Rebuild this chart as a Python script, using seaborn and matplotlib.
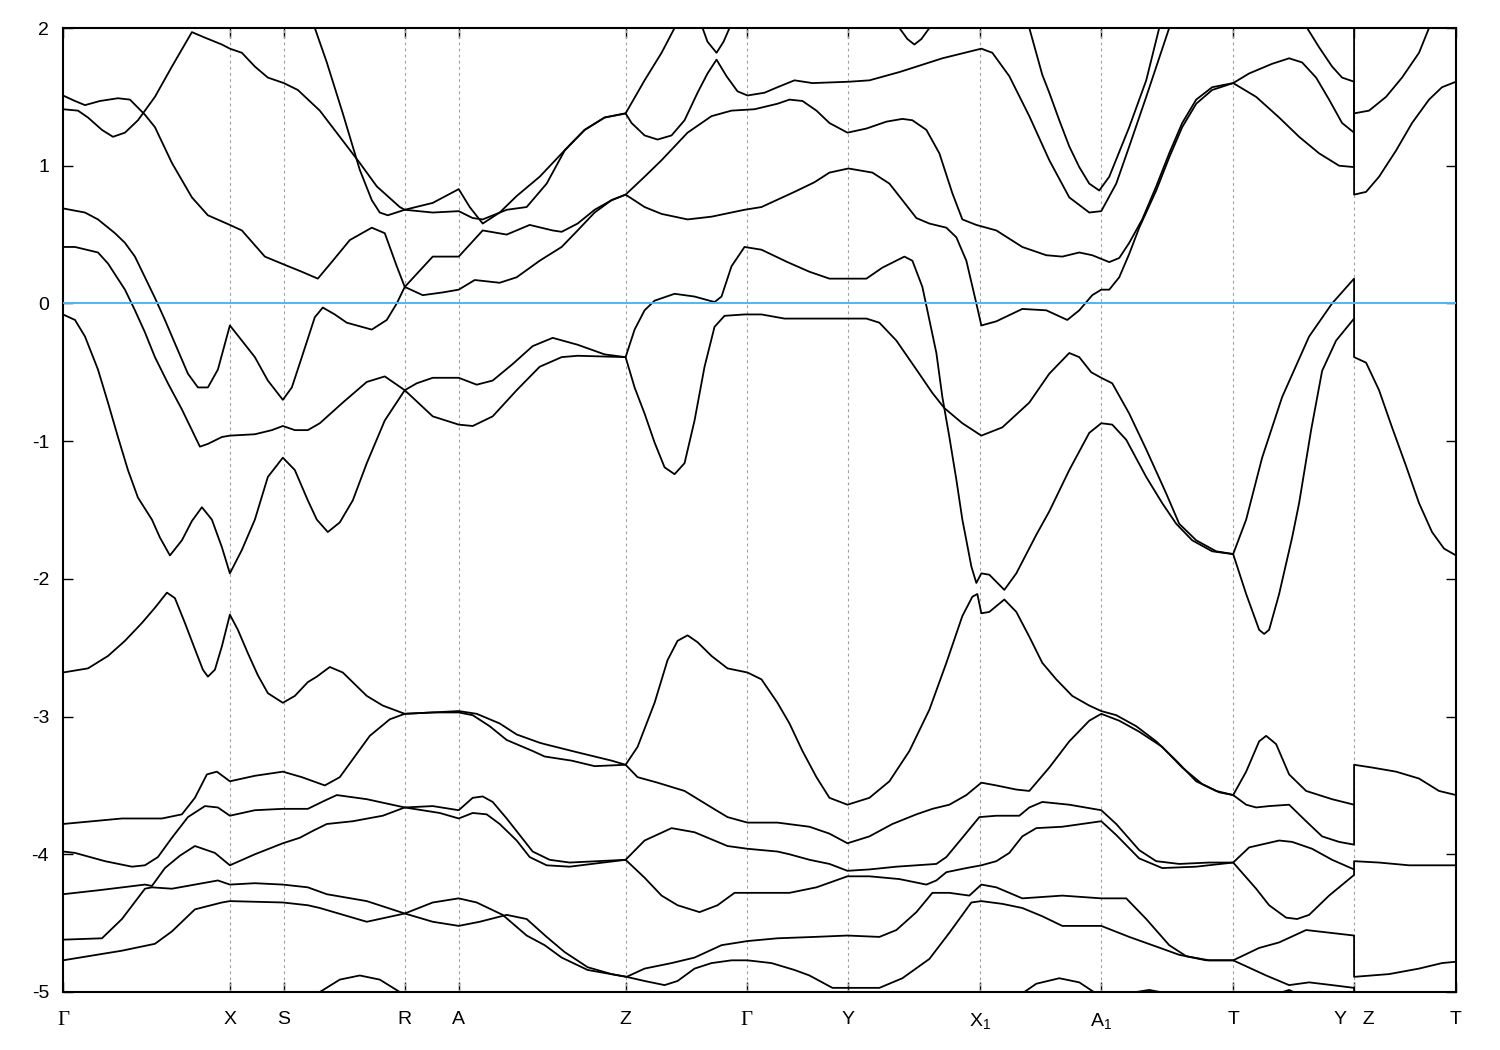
import pandas as pd
import matplotlib
matplotlib.use("Agg")
import matplotlib.pyplot as plt
import seaborn as sns

# Caminho de alta simetria (distância ao longo do caminho k, unidades arbitrárias)
TICK_POS = [0, 167, 221, 342, 396, 563, 684, 786, 918, 1039, 1171, 1292, 1394]
TICK_LABELS = ["Γ", "X", "S", "R", "A", "Z", "Γ", "Y", r"X$_{\rm 1}$", r"A$_{\rm 1}$", "T", "Y   Z", "T"]
E_MIN, E_MAX = -5, 2

# Bandas (k, E em eV)
b01_k = [0, 12, 22, 37, 55, 67, 82, 92, 109, 129, 145, 167, 179, 202, 222, 239, 255, 270, 287, 309, 322, 334, 342, 360, 380, 396, 412, 437, 454, 477, 499, 515, 532, 549, 563,
         582, 599, 625, 649, 682, 699, 732, 752, 767, 786, 810, 827, 840, 854, 867, 884, 894, 904, 914, 919,
         934, 960, 984, 1005, 1017, 1030, 1039, 1047, 1057, 1067, 1077, 1094, 1107, 1120, 1134, 1150, 1171,
         1194, 1217, 1237, 1257, 1277, 1292, 1292, 1307, 1324, 1340, 1357, 1367, 1375]
b01_e = [1.51, 1.47, 1.44, 1.47, 1.49, 1.48, 1.37, 1.28, 1.02, 0.77, 0.64, 0.57, 0.53, 0.34, 0.28, 0.23, 0.18, 0.31, 0.46, 0.55, 0.51, 0.27, 0.12, 0.06, 0.08, 0.10, 0.17, 0.15, 0.19, 0.31, 0.41, 0.53, 0.66, 0.75, 0.79,
         0.70, 0.65, 0.61, 0.63, 0.68, 0.70, 0.81, 0.88, 0.95, 0.98, 0.95, 0.87, 0.75, 0.62, 0.58, 0.55, 0.48, 0.31, 0.0, -0.16,
         -0.13, -0.04, -0.05, -0.12, -0.05, 0.06, 0.10, 0.10, 0.19, 0.36, 0.55, 0.82, 1.06, 1.28, 1.45, 1.55, 1.60,
         1.50, 1.35, 1.21, 1.09, 1.00, 0.99, 1.38, 1.40, 1.50, 1.64, 1.82, 2.0, 2.15]

b02_k = [0, 15, 25, 39, 50, 62, 75, 92, 109, 129, 142, 159, 167, 179, 192, 205, 221, 235, 257, 277, 297, 314, 337, 342, 370, 396, 407, 420, 437, 454, 477, 507, 522, 542, 563,
         569, 582, 595, 609, 622, 635, 645, 654, 664, 675, 685, 702, 715, 732, 750, 787, 807, 837, 880, 919, 930, 947, 967, 987, 1007, 1027, 1039, 1054, 1067, 1084, 1107, 1112]
b02_e = [1.41, 1.40, 1.35, 1.26, 1.21, 1.24, 1.33, 1.50, 1.72, 1.97, 1.93, 1.88, 1.85, 1.82, 1.72, 1.64, 1.60, 1.55, 1.40, 1.21, 1.02, 0.85, 0.70, 0.68, 0.73, 0.83, 0.70, 0.58, 0.66, 0.78, 0.92, 1.15, 1.26, 1.35, 1.38,
         1.31, 1.22, 1.19, 1.22, 1.33, 1.53, 1.67, 1.77, 1.65, 1.54, 1.51, 1.53, 1.57, 1.62, 1.60, 1.61, 1.62, 1.68, 1.78, 1.85, 1.82, 1.65, 1.36, 1.04, 0.77, 0.66, 0.67, 0.87, 1.14, 1.50, 2.0, 2.1]

b03_k = [249, 252, 264, 280, 297, 309, 317, 325, 342, 370, 396, 410, 420, 444, 464, 484, 502, 522, 542, 563, 582, 599, 612, 617]
b03_e = [2.1, 2.0, 1.75, 1.38, 0.97, 0.75, 0.66, 0.64, 0.68, 0.66, 0.67, 0.62, 0.61, 0.68, 0.70, 0.87, 1.11, 1.26, 1.35, 1.38, 1.62, 1.82, 2.0, 2.1]

b04_k = [0, 22, 35, 52, 62, 72, 82, 92, 102, 112, 125, 135, 145, 155, 167, 179, 192, 205, 220, 229, 239, 252, 260, 272, 284, 309, 324, 334, 342, 370, 396, 420, 444, 467, 490, 499, 515, 532, 549, 563,
         582, 599, 625, 649, 669, 692, 715, 727, 740, 754, 767, 785, 804, 824, 840, 850, 864, 877, 890, 900, 914, 934, 960, 984, 1000, 1017, 1030, 1047, 1057, 1067, 1080, 1094, 1107, 1120, 1134, 1150, 1171,
         1187, 1210, 1227, 1240, 1254, 1267, 1280, 1292, 1292]
b04_e = [0.69, 0.66, 0.61, 0.51, 0.44, 0.34, 0.19, 0.04, -0.12, -0.29, -0.51, -0.61, -0.61, -0.48, -0.16, -0.27, -0.39, -0.56, -0.70, -0.61, -0.39, -0.10, -0.03, -0.08, -0.14, -0.19, -0.12, 0.0, 0.12, 0.34, 0.34, 0.53, 0.50, 0.57, 0.53, 0.52, 0.58, 0.68, 0.75, 0.79,
         0.92, 1.04, 1.24, 1.36, 1.40, 1.41, 1.45, 1.48, 1.47, 1.40, 1.31, 1.24, 1.27, 1.32, 1.34, 1.33, 1.26, 1.09, 0.80, 0.61, 0.57, 0.53, 0.41, 0.35, 0.34, 0.37, 0.35, 0.30, 0.33, 0.44, 0.61, 0.85, 1.09, 1.31, 1.48, 1.57, 1.60,
         1.67, 1.74, 1.78, 1.75, 1.64, 1.48, 1.31, 1.24, 2.5]

b05_k = [1237, 1245, 1257, 1270, 1280, 1292, 1292, 1304, 1317, 1334, 1350, 1367, 1380, 1394]
b05_e = [2.1, 2.0, 1.86, 1.72, 1.64, 1.61, 0.79, 0.81, 0.92, 1.11, 1.31, 1.48, 1.57, 1.61]

b06_k = [0, 12, 35, 45, 62, 72, 82, 92, 105, 119, 129, 137, 145, 159, 167, 192, 209, 220, 232, 245, 257, 280, 304, 322, 342, 370, 396, 410, 430, 454, 477, 499, 515, 563,
         572, 582, 592, 612, 632, 652, 659, 669, 682, 699, 725, 747, 767, 804, 820, 842, 850, 860, 867, 874, 880, 887, 894, 900, 904, 909, 914, 919, 927, 942, 954, 974, 987, 1007, 1027, 1039, 1050, 1064, 1084, 1100, 1114, 1130, 1150, 1171,
         1184, 1200, 1220, 1247, 1270, 1292, 1292, 1304, 1317, 1330, 1344, 1357, 1370, 1382, 1394]
b06_e = [0.41, 0.41, 0.37, 0.29, 0.10, -0.05, -0.21, -0.39, -0.58, -0.77, -0.92, -1.04, -1.02, -0.97, -0.96, -0.95, -0.92, -0.89, -0.92, -0.92, -0.87, -0.72, -0.57, -0.53, -0.63, -0.82, -0.88, -0.89, -0.82, -0.63, -0.46, -0.39, -0.38, -0.39,
         -0.19, -0.05, 0.02, 0.07, 0.05, 0.01, 0.05, 0.27, 0.41, 0.39, 0.30, 0.23, 0.18, 0.18, 0.26, 0.34, 0.31, 0.12, -0.12, -0.36, -0.68, -0.97, -1.28, -1.57, -1.72, -1.91, -2.03, -1.96, -1.97, -2.08, -1.96, -1.68, -1.51, -1.21, -0.94, -0.87, -0.88, -0.99, -1.26, -1.45, -1.60, -1.72, -1.80, -1.82,
         -1.57, -1.12, -0.68, -0.24, 0.0, 0.18, -0.39, -0.43, -0.63, -0.90, -1.18, -1.45, -1.66, -1.78, -1.83]

b07_k = [0, 12, 22, 35, 45, 55, 65, 75, 89, 97, 107, 119, 129, 139, 149, 159, 167, 179, 192, 205, 220, 232, 245, 254, 265, 277, 290, 304, 322, 342, 354, 370, 396, 414, 430, 450, 470, 490, 515, 542, 563,
         572, 582, 592, 602, 612, 622, 632, 642, 652, 662, 682, 699, 722, 760, 804, 817, 834, 854, 870, 882, 900, 919, 940, 967, 987, 1007, 1017, 1029, 1039, 1050, 1067, 1084, 1104, 1117, 1134, 1154, 1171,
         1184, 1197, 1202, 1207, 1217, 1230, 1237, 1249, 1260, 1274, 1292]
b07_e = [-0.08, -0.12, -0.24, -0.48, -0.72, -0.97, -1.21, -1.41, -1.57, -1.70, -1.83, -1.72, -1.58, -1.48, -1.57, -1.77, -1.96, -1.79, -1.57, -1.26, -1.12, -1.21, -1.43, -1.57, -1.66, -1.59, -1.43, -1.16, -0.85, -0.63, -0.58, -0.54, -0.54, -0.59, -0.56, -0.44, -0.31, -0.25, -0.30, -0.37, -0.39,
         -0.61, -0.80, -1.01, -1.19, -1.24, -1.16, -0.85, -0.46, -0.17, -0.09, -0.08, -0.08, -0.11, -0.11, -0.11, -0.14, -0.27, -0.48, -0.65, -0.76, -0.87, -0.96, -0.90, -0.72, -0.51, -0.36, -0.39, -0.50, -0.54, -0.58, -0.80, -1.06, -1.38, -1.60, -1.72, -1.80, -1.82,
         -2.11, -2.37, -2.40, -2.37, -2.11, -1.70, -1.45, -0.92, -0.49, -0.27, -0.11]

b08_k = [0, 25, 45, 62, 79, 92, 104, 112, 122, 132, 140, 145, 152, 159, 167, 175, 185, 195, 205, 220, 232, 245, 254, 267, 280, 304, 320, 342, 370, 396, 414, 437, 454, 477, 482, 515, 549, 563,
         575, 592, 605, 615, 625, 635, 649, 665, 685, 699, 715, 727, 740, 754, 767, 785, 807, 827, 847, 867, 884, 900, 910, 915, 919, 927, 942, 954, 967, 980, 994, 1010, 1027, 1039, 1054, 1074, 1094, 1114, 1134, 1154, 1171,
         1184, 1197, 1204, 1214, 1227, 1244, 1270, 1292]
b08_e = [-2.68, -2.65, -2.56, -2.45, -2.32, -2.21, -2.10, -2.14, -2.32, -2.51, -2.66, -2.71, -2.66, -2.49, -2.26, -2.37, -2.54, -2.70, -2.83, -2.90, -2.85, -2.75, -2.71, -2.64, -2.68, -2.85, -2.92, -2.98, -2.97, -2.96, -2.98, -3.05, -3.13, -3.19, -3.20, -3.26, -3.32, -3.35,
         -3.22, -2.90, -2.59, -2.45, -2.41, -2.46, -2.56, -2.65, -2.68, -2.73, -2.90, -3.05, -3.25, -3.44, -3.59, -3.64, -3.59, -3.47, -3.25, -2.95, -2.61, -2.27, -2.13, -2.11, -2.25, -2.24, -2.15, -2.24, -2.42, -2.61, -2.73, -2.85, -2.92, -2.96, -2.99, -3.07, -3.18, -3.32, -3.47, -3.54, -3.57,
         -3.40, -3.18, -3.14, -3.20, -3.42, -3.54, -3.60, -3.64]

b09_k = [0, 59, 99, 119, 132, 144, 154, 167, 192, 220, 239, 262, 277, 294, 307, 327, 342, 370, 396, 410, 427, 444, 470, 482, 509, 532, 563,
         575, 595, 622, 649, 665, 685, 715, 747, 767, 785, 807, 830, 854, 870, 887, 904, 919, 934, 954, 967, 987, 1007, 1027, 1039, 1057, 1077, 1100, 1120, 1140, 1157, 1171,
         1184, 1194, 1207, 1227, 1244, 1260, 1277, 1292, 1292, 1310, 1334, 1357, 1377, 1394]
b09_e = [-3.78, -3.74, -3.74, -3.71, -3.59, -3.42, -3.40, -3.47, -3.43, -3.40, -3.44, -3.50, -3.44, -3.27, -3.14, -3.02, -2.98, -2.97, -2.97, -2.99, -3.07, -3.17, -3.25, -3.29, -3.32, -3.36, -3.35,
         -3.44, -3.48, -3.54, -3.66, -3.73, -3.77, -3.77, -3.80, -3.85, -3.92, -3.87, -3.78, -3.71, -3.67, -3.64, -3.57, -3.48, -3.50, -3.53, -3.54, -3.37, -3.18, -3.03, -2.98, -3.03, -3.11, -3.22, -3.37, -3.49, -3.55, -3.57,
         -3.64, -3.66, -3.65, -3.64, -3.76, -3.87, -3.91, -3.93, -3.35, -3.37, -3.40, -3.45, -3.54, -3.57]

b10_k = [0, 12, 42, 69, 82, 95, 109, 125, 142, 155, 167, 192, 220, 245, 262, 274, 304, 342, 377, 396, 410, 424, 437, 454, 467, 484, 507, 563,
         582, 609, 632, 665, 685, 715, 727, 747, 767, 785, 807, 834, 874, 884, 900, 917, 934, 957, 967, 980, 1007, 1039, 1054, 1077, 1094, 1117, 1147, 1171,
         1187, 1217, 1230, 1250, 1270, 1292]
b10_e = [-3.98, -3.99, -4.05, -4.09, -4.08, -4.02, -3.88, -3.73, -3.65, -3.66, -3.72, -3.68, -3.67, -3.67, -3.61, -3.57, -3.60, -3.66, -3.70, -3.74, -3.70, -3.71, -3.78, -3.90, -4.02, -4.08, -4.09, -4.04,
         -3.90, -3.81, -3.84, -3.94, -3.96, -3.98, -4.00, -4.04, -4.07, -4.12, -4.11, -4.09, -4.07, -4.02, -3.88, -3.73, -3.72, -3.72, -3.66, -3.62, -3.64, -3.68, -3.78, -3.97, -4.05, -4.07, -4.06, -4.06,
         -3.95, -3.90, -3.91, -3.96, -4.04, -4.11]

b11_k = [0, 37, 82, 89, 102, 117, 132, 152, 167, 192, 220, 237, 250, 264, 290, 320, 342, 370, 396, 410, 420, 430, 444, 457, 470, 487, 507, 563,
         582, 599, 615, 637, 655, 672, 685, 715, 727, 754, 785, 807, 837, 864, 874, 884, 904, 919, 934, 947, 960, 974, 1000, 1039, 1054, 1077, 1100, 1134, 1171,
         1194, 1207, 1224, 1235, 1247, 1267, 1287, 1292, 1292, 1317, 1347, 1394]
b11_e = [-4.29, -4.26, -4.22, -4.23, -4.10, -4.01, -3.94, -3.99, -4.08, -4.00, -3.92, -3.88, -3.83, -3.78, -3.76, -3.72, -3.66, -3.65, -3.68, -3.59, -3.58, -3.62, -3.74, -3.86, -3.98, -4.04, -4.06, -4.04,
         -4.17, -4.30, -4.37, -4.42, -4.37, -4.28, -4.28, -4.28, -4.28, -4.24, -4.16, -4.16, -4.18, -4.22, -4.19, -4.13, -4.10, -4.08, -4.05, -3.99, -3.87, -3.81, -3.80, -3.76, -3.86, -4.03, -4.10, -4.09, -4.06,
         -4.25, -4.37, -4.46, -4.47, -4.44, -4.30, -4.18, -4.15, -4.05, -4.06, -4.08, -4.08]

b12_k = [0, 39, 59, 82, 89, 109, 132, 155, 167, 192, 220, 245, 264, 304, 342, 370, 396, 417, 444, 464, 484, 502, 525, 549, 564,
         582, 609, 632, 659, 685, 715, 752, 785, 817, 834, 854, 870, 887, 907, 919, 934, 960, 980, 1000, 1039, 1064, 1084, 1107, 1124, 1147, 1171,
         1197, 1217, 1244, 1292, 1292, 1327, 1357, 1380, 1394]
b12_e = [-4.62, -4.61, -4.47, -4.25, -4.24, -4.25, -4.22, -4.19, -4.22, -4.21, -4.22, -4.24, -4.29, -4.34, -4.43, -4.49, -4.52, -4.49, -4.44, -4.47, -4.60, -4.71, -4.82, -4.87, -4.89,
         -4.83, -4.79, -4.75, -4.66, -4.63, -4.61, -4.60, -4.59, -4.60, -4.55, -4.42, -4.28, -4.28, -4.30, -4.22, -4.24, -4.32, -4.31, -4.30, -4.32, -4.32, -4.47, -4.66, -4.74, -4.77, -4.77,
         -4.68, -4.64, -4.55, -4.59, -4.89, -4.87, -4.83, -4.79, -4.78]

b13_k = [0, 59, 92, 109, 132, 159, 167, 220, 245, 257, 304, 342, 370, 396, 414, 440, 464, 482, 499, 525, 564,
         582, 602, 615, 632, 649, 669, 685, 709, 732, 747, 770, 817, 840, 867, 887, 909, 919, 940, 960, 980, 1000, 1039, 1067, 1094, 1117, 1144, 1171,
         1204, 1227, 1247, 1270, 1292, 1292]
b13_e = [-4.77, -4.70, -4.65, -4.56, -4.40, -4.35, -4.34, -4.35, -4.37, -4.39, -4.49, -4.43, -4.35, -4.32, -4.35, -4.44, -4.59, -4.66, -4.75, -4.84, -4.89,
         -4.92, -4.95, -4.92, -4.83, -4.79, -4.77, -4.77, -4.79, -4.84, -4.88, -4.97, -4.97, -4.90, -4.76, -4.57, -4.35, -4.34, -4.36, -4.39, -4.45, -4.52, -4.52, -4.60, -4.67, -4.73, -4.77, -4.77,
         -4.88, -4.95, -4.93, -4.95, -4.97, -5.4]

# pedaços curtos que entram e saem da janela de energia
b14_k = [635, 640, 645, 654, 661, 667, 672]
b14_e = [2.05, 2.0, 1.90, 1.82, 1.90, 2.0, 2.05]
b15_k = [833, 837, 845, 852, 859, 867, 871]
b15_e = [2.05, 2.0, 1.92, 1.88, 1.92, 2.0, 2.05]
b16_k = [964, 967, 980, 987, 997, 1007, 1017, 1027, 1037, 1047, 1057, 1067, 1084, 1097, 1100]
b16_e = [2.1, 2.0, 1.66, 1.53, 1.33, 1.14, 0.99, 0.87, 0.82, 0.92, 1.10, 1.28, 1.62, 2.0, 2.1]
b17_k = [252, 257, 277, 297, 317, 337, 342]
b17_e = [-5.05, -5.0, -4.91, -4.88, -4.91, -5.0, -5.05]
b18_k = [952, 974, 997, 1017, 1042]
b18_e = [-5.05, -4.94, -4.90, -4.93, -5.05]
b19_k = [1057, 1087, 1112]
b19_e = [-5.02, -4.985, -5.02]
b20_k = [1212, 1227, 1237]
b20_e = [-5.02, -4.985, -5.02]

BANDAS = [(b01_k, b01_e), (b02_k, b02_e), (b03_k, b03_e), (b04_k, b04_e), (b05_k, b05_e),
          (b06_k, b06_e), (b07_k, b07_e), (b08_k, b08_e), (b09_k, b09_e), (b10_k, b10_e),
          (b11_k, b11_e), (b12_k, b12_e), (b13_k, b13_e), (b14_k, b14_e), (b15_k, b15_e),
          (b16_k, b16_e), (b17_k, b17_e), (b18_k, b18_e), (b19_k, b19_e), (b20_k, b20_e)]


def main():
    linhas = []
    for i, (ks, es) in enumerate(BANDAS):
        for ordem, (k, e) in enumerate(zip(ks, es)):
            linhas.append({"banda": i, "ordem": ordem, "k": k, "E": e})
    df = pd.DataFrame(linhas)

    sns.set_theme(style="ticks")
    plt.rcParams["font.family"] = ["Liberation Sans", "DejaVu Sans"]
    plt.rcParams["axes.unicode_minus"] = False
    plt.rcParams["mathtext.fontset"] = "custom"
    plt.rcParams["mathtext.rm"] = "Liberation Sans"

    fig = plt.figure(figsize=(15, 10.5), dpi=100)
    ax = fig.add_axes([63 / 1500, 1 - 992 / 1050, 1393 / 1500, 964 / 1050])

    # linhas verticais nos pontos de alta simetria
    for x in TICK_POS[1:-1]:
        ax.axvline(x, color="#a0a0a0", lw=0.8, ls=(0, (2.5, 3)), zorder=1)

    sns.lineplot(data=df, x="k", y="E", units="banda", estimator=None, sort=False,
                 color="black", linewidth=1.3, legend=False, ax=ax, zorder=3)
    for ln in ax.get_lines():
        ln.set_solid_joinstyle("round")

    ax.axhline(0, color="#56b4e9", lw=1.4, zorder=4)

    ax.set_xlim(TICK_POS[0], TICK_POS[-1])
    ax.set_ylim(E_MIN, E_MAX)
    ax.set_xticks(TICK_POS)
    ax.set_xticklabels(TICK_LABELS)
    ax.set_yticks(range(E_MIN, E_MAX + 1))
    ax.set_xlabel("")
    ax.set_ylabel("")
    ax.tick_params(axis="both", direction="in", length=7, width=1, top=True, right=True,
                   labelsize=14, colors="black")
    ax.tick_params(axis="x", pad=14)
    ax.tick_params(axis="y", pad=10)
    for lbl in ax.get_xticklabels():
        if lbl.get_text() == "Γ":
            lbl.set_fontfamily(["Liberation Serif", "DejaVu Serif"])
            lbl.set_fontsize(15)
    for s in ax.spines.values():
        s.set_visible(True)
        s.set_linewidth(1.5)
        s.set_color("black")

    fig.savefig("out.png", dpi=100)


if __name__ == "__main__":
    main()
